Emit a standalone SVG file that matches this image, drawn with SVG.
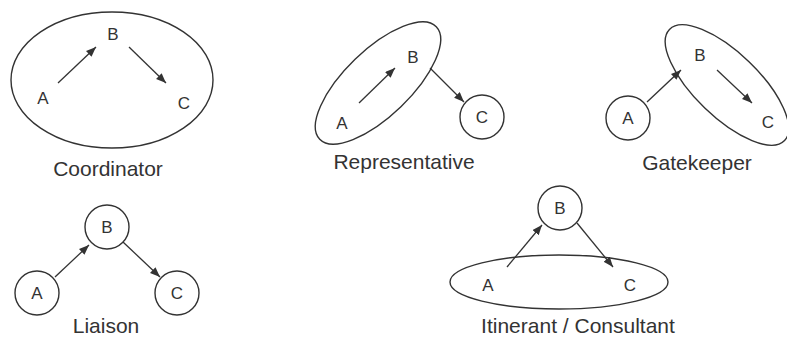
<svg xmlns="http://www.w3.org/2000/svg" width="787" height="339" viewBox="0 0 787 339">
<defs>
<marker id="ah" markerUnits="userSpaceOnUse" markerWidth="11" markerHeight="9" refX="10" refY="4" orient="auto">
<path d="M0,0 L10,4 L0,8 z" fill="#333"/>
</marker>
<style>
.sh{fill:none;stroke:#333;stroke-width:1.4}
.ln{stroke:#333;stroke-width:1.3;fill:none;marker-end:url(#ah)}
.lt{font-family:"Liberation Sans",Arial,sans-serif;font-size:17px;fill:#333;text-anchor:middle}
.lb{font-family:"Liberation Sans",Arial,sans-serif;font-size:21px;fill:#333;text-anchor:middle}
</style>
</defs>
<rect width="787" height="339" fill="#fff"/>

<g id="coordinator">
<ellipse class="sh" cx="112" cy="80" rx="101" ry="68"/>
<text class="lt" x="113" y="40">B</text>
<text class="lt" x="43" y="104">A</text>
<text class="lt" x="184" y="109">C</text>
<text class="lb" x="108" y="176">Coordinator</text>
</g>

<g id="representative">
<ellipse class="sh" cx="378" cy="83" rx="81" ry="33" transform="rotate(-44 378 83)"/>
<text class="lt" x="413" y="63">B</text>
<text class="lt" x="342" y="129">A</text>
<circle class="sh" cx="482" cy="117" r="22"/>
<text class="lt" x="482" y="123">C</text>
<text class="lb" x="404" y="169">Representative</text>
</g>

<g id="gatekeeper">
<ellipse class="sh" cx="727" cy="85" rx="80" ry="32" transform="rotate(44 727 85)"/>
<circle class="sh" cx="628" cy="118" r="22"/>
<text class="lt" x="628" y="124">A</text>
<text class="lt" x="700" y="61">B</text>
<text class="lt" x="768" y="128">C</text>
<text class="lb" x="697" y="170">Gatekeeper</text>
</g>

<g id="liaison">
<circle class="sh" cx="107" cy="227" r="22"/>
<text class="lt" x="107" y="233">B</text>
<circle class="sh" cx="37" cy="293" r="22"/>
<text class="lt" x="37" y="299">A</text>
<circle class="sh" cx="177" cy="293" r="22"/>
<text class="lt" x="177" y="299">C</text>
<text class="lb" x="106" y="333">Liaison</text>
</g>

<g id="itinerant">
<circle class="sh" cx="560" cy="208" r="22"/>
<text class="lt" x="560" y="214">B</text>
<ellipse class="sh" cx="559" cy="282" rx="109" ry="27"/>
<text class="lt" x="488" y="291">A</text>
<text class="lt" x="630" y="291">C</text>
<text class="lb" x="578" y="333">Itinerant / Consultant</text>
</g>

<g id="connectors">
<line class="ln" x1="58" y1="83" x2="96" y2="47"/>
<line class="ln" x1="129" y1="47" x2="166" y2="83"/>
<line class="ln" x1="359" y1="103" x2="395" y2="68"/>
<line class="ln" x1="430" y1="68" x2="464" y2="102"/>
<line class="ln" x1="647" y1="102" x2="681" y2="70"/>
<line class="ln" x1="717" y1="70" x2="752" y2="103"/>
<line class="ln" x1="55" y1="277" x2="89" y2="245"/>
<line class="ln" x1="123" y1="242" x2="160" y2="277"/>
<line class="ln" x1="507" y1="267" x2="542" y2="225"/>
<line class="ln" x1="577" y1="223" x2="613" y2="267"/>
</g>
</svg>
